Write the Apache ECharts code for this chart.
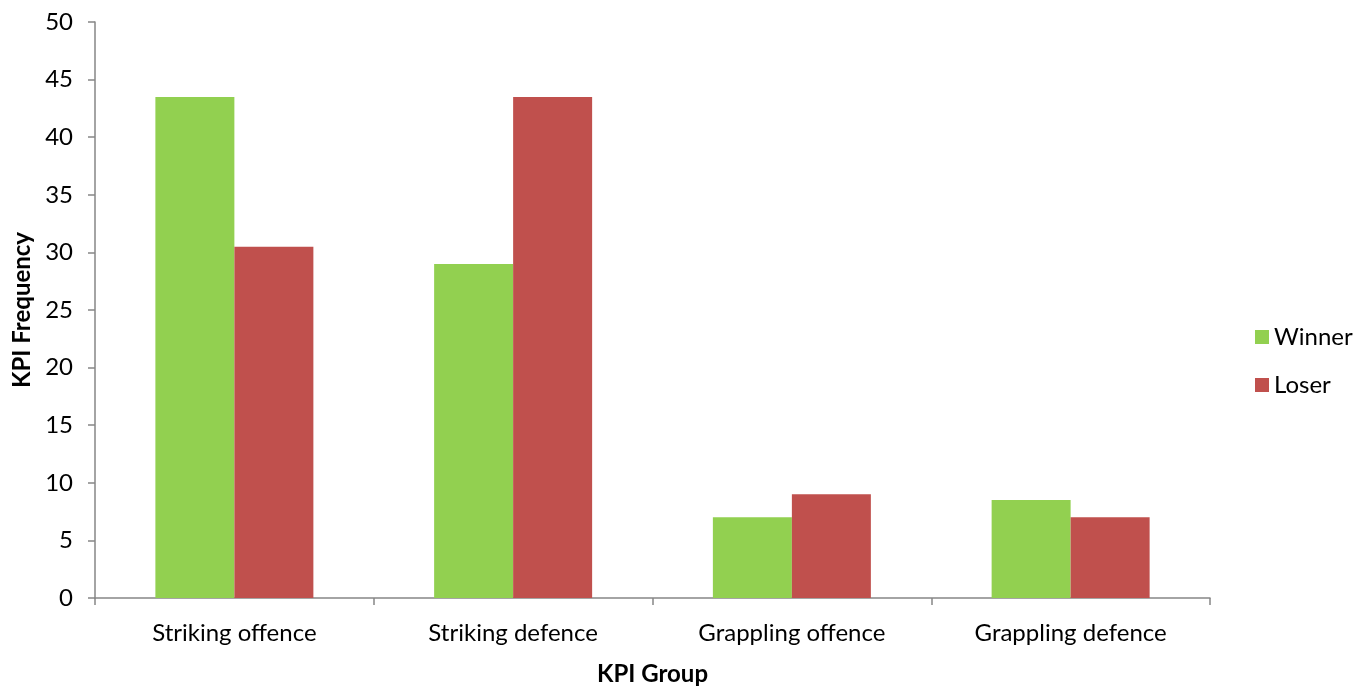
<!DOCTYPE html>
<html>
<head>
<meta charset="utf-8">
<script src="https://cdn.jsdelivr.net/npm/echarts@6/dist/echarts.min.js"></script>
<style>
  html, body { margin: 0; padding: 0; background: #fff; overflow: hidden; }
  #chart { width: 1365px; height: 691px; }
</style>
</head>
<body>
<div id="chart"></div>
<script>
// KPI frequency by group, winners vs losers
const categories = ['Striking offence', 'Striking defence', 'Grappling offence', 'Grappling defence'];
const winner = [43.5, 29, 7, 8.5];
const loser = [30.5, 43.5, 9, 7];
const yTicks = { min: 0, max: 50, interval: 5 };

const FONT = 'Lato, "Open Sans", sans-serif';
const AXIS_GREY = '#868686';

const chart = echarts.init(document.getElementById('chart'));
chart.setOption({
  animation: false,
  textStyle: { fontFamily: FONT },
  grid: { left: 95, right: 155, top: 22, bottom: 75, containLabel: false },
  legend: {
    orient: 'vertical',
    left: 1250,
    top: 320,
    itemWidth: 14,
    itemHeight: 14,
    itemGap: 24,
    icon: 'rect',
    textStyle: { fontSize: 24, color: '#000', fontFamily: FONT },
    data: ['Winner', 'Loser']
  },
  xAxis: {
    type: 'category',
    data: categories,
    name: 'KPI Group',
    nameLocation: 'middle',
    nameGap: 64,
    nameTextStyle: { fontSize: 24, fontWeight: 'bold', color: '#000', fontFamily: FONT },
    axisLine: { lineStyle: { color: AXIS_GREY, width: 1.5 } },
    axisTick: { show: true, length: 7, lineStyle: { color: AXIS_GREY, width: 1.5 } },
    axisLabel: { fontSize: 24, color: '#000', margin: 23, fontFamily: FONT },
    splitLine: { show: false }
  },
  yAxis: {
    type: 'value',
    min: yTicks.min,
    max: yTicks.max,
    interval: yTicks.interval,
    name: 'KPI Frequency',
    nameLocation: 'middle',
    nameGap: 61,
    nameRotate: 90,
    nameTextStyle: { fontSize: 24, fontWeight: 'bold', color: '#000', fontFamily: FONT },
    axisLine: { show: true, lineStyle: { color: AXIS_GREY, width: 1.5 } },
    axisTick: { show: true, length: 7, lineStyle: { color: AXIS_GREY, width: 1.5 } },
    axisLabel: { fontSize: 24, color: '#000', margin: 22, fontFamily: FONT },
    splitLine: { show: false }
  },
  series: [
    {
      name: 'Winner',
      type: 'bar',
      data: winner,
      barWidth: 79,
      barGap: '0%',
      itemStyle: { color: '#92D050' }
    },
    {
      name: 'Loser',
      type: 'bar',
      data: loser,
      barWidth: 79,
      barGap: '0%',
      itemStyle: { color: '#C0504D' }
    }
  ]
});
</script>
</body>
</html>
